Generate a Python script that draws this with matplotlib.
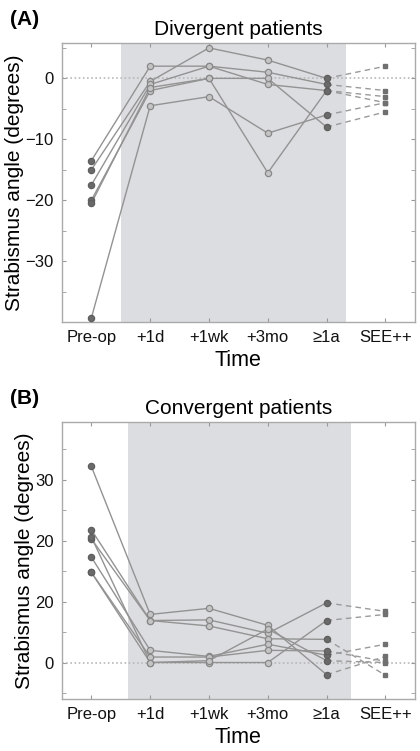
import matplotlib
matplotlib.use("Agg")
import matplotlib.pyplot as plt
import numpy as np

plt.rcParams['font.family'] = ['Liberation Sans', 'DejaVu Sans']

time_labels = ['Pre-op', '+1d', '+1wk', '+3mo', '\u22651a', 'SEE++']

# divergent patients: pre-op, +1d, +1wk, +3mo, >=1a, SEE++
div_pre = [-13.5, -15.0, -17.5, -20.0, -20.5, -39.3]
div_1d = [2.0, -0.5, -1.0, -2.0, -1.5, -4.5]
div_1wk = [2.0, 5.0, 2.0, 0.0, 0.0, -3.0]
div_3mo = [1.0, 3.0, -1.0, 0.0, -15.5, -9.0]
div_1a = [-1.0, 0.0, -2.0, -8.0, -2.0, -6.0]
div_see = [-2.0, 2.0, -3.0, -5.5, -4.0, -4.0]

# convergent patients
con_pre = [32.2, 21.8, 20.3, 17.3, 14.8, 14.8, 20.6]
con_1d = [7.9, 6.9, 6.9, 2.0, 0.9, 0.0, 0.0]
con_1wk = [8.9, 7.0, 6.0, 1.0, 0.9, 0.0, 0.3]
con_3mo = [6.1, 4.8, 3.9, 3.0, 2.0, 0.0, 5.5]
con_1a = [-2.0, 9.8, 3.8, 1.2, 1.9, 6.9, 0.3]
con_see = [1.0, 8.4, -2.1, 3.0, 0.2, 7.9, 0.0]

line_c = '#939393'


def draw_panel(ax, pre, d1, wk1, mo3, a1, see, shade, ylim, yticks, ylabels, title, tag):
    x = np.arange(1, 7)
    ax.axvspan(shade[0], shade[1], color='#dcdde0', lw=0, zorder=0)
    ax.axhline(0, color='#b8b8b8', ls=(0, (1, 1.5)), lw=1.2, zorder=1)
    for i in range(len(pre)):
        vals = [pre[i], d1[i], wk1[i], mo3[i], a1[i]]
        ax.plot(x[:5], vals, color=line_c, lw=1.0, zorder=2)
        ax.plot(x[4:6], [a1[i], see[i]], color='#9a9a9a', lw=1.0, ls=(0, (4, 3)), zorder=2)
        ax.plot(x[1:4], vals[1:4], 'o', ms=4.5, mfc='#c4c4c4', mec='#888888', mew=0.9, zorder=3)
        ax.plot([x[0], x[4]], [pre[i], a1[i]], 'o', ms=4.5, mfc='#6a6a6a', mec='#5e5e5e', mew=0.9, zorder=3)
        ax.plot(x[5], see[i], 's', ms=2.8, mfc='#707070', mec='#707070', zorder=3)
    ax.set_xticks(x)
    ax.set_xticklabels(time_labels, fontsize=12)
    ax.set_yticks(yticks)
    ax.set_yticklabels(ylabels, fontsize=12)
    ax.set_yticks(np.arange(-40, 45, 5), minor=True)
    ax.set_xlim(0.5, 6.5)
    ax.set_ylim(*ylim)
    ax.tick_params(which='both', direction='in', top=True, right=True, color='#999999',
                   length=3, pad=6, labelcolor='#111111')
    for s in ax.spines.values():
        s.set_color('#aaaaaa')
        s.set_linewidth(1.0)
    ax.set_xlabel('Time', fontsize=15.5, labelpad=3)
    ax.set_ylabel('Strabismus angle (degrees)', fontsize=15, labelpad=1)
    ax.set_title(title, fontsize=15, pad=6)
    ax.text(-0.147, 1.065, tag, transform=ax.transAxes, fontsize=15, fontweight='bold',
            ha='left', va='baseline')


fig = plt.figure(figsize=(4.2, 7.51), dpi=100)
ax1 = fig.add_axes([0.1476, 0.5712, 0.840, 0.3715])
ax2 = fig.add_axes([0.1476, 0.0692, 0.840, 0.3688])

draw_panel(ax1, div_pre, div_1d, div_1wk, div_3mo, div_1a, div_see,
           (1.5, 5.33), (-40, 5.8), [-30, -20, -10, 0], ['\u221230', '\u221220', '\u221210', '0'],
           'Divergent patients', '(A)')
draw_panel(ax2, con_pre, con_1d, con_1wk, con_3mo, con_1a, con_see,
           (1.63, 5.42), (-6, 39.5), [0, 10, 20, 30], ['0', '20', '20', '30'],
           'Convergent patients', '(B)')

fig.savefig('out.png', dpi=100)
